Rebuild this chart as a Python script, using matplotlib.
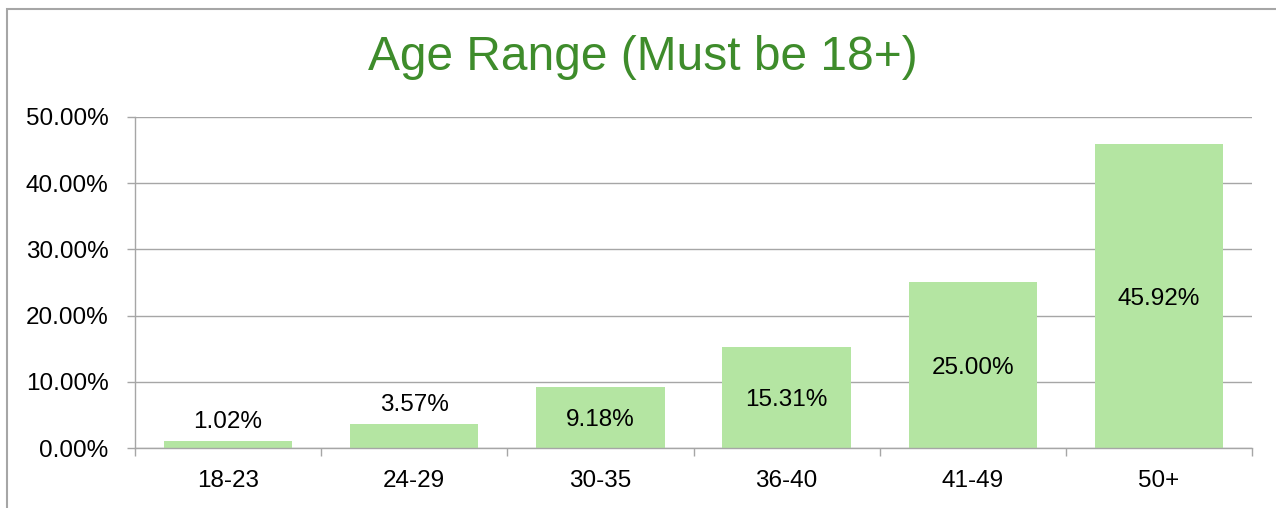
import numpy as np
import matplotlib.pyplot as plt
from matplotlib.patches import Rectangle
from matplotlib.ticker import PercentFormatter, FixedLocator

# ----------------
# Chart data
# ----------------

AGE_GROUPS = ["18-23", "24-29", "30-35", "36-40", "41-49", "50+"]
SHARES = [0.0102, 0.0357, 0.0918, 0.1531, 0.2500, 0.4592]
Y_TICKS = [0.0, 0.1, 0.2, 0.3, 0.4, 0.5]

TITLE = "Age Range (Must be 18+)"
BAR_COLOR = "#B4E5A2"
TITLE_COLOR = "#3E8C2B"
GRID_COLOR = "#A6A6A6"
FONT_SIZE = 17.5

plt.rcParams["font.family"] = ["Liberation Sans", "DejaVu Sans"]

fig = plt.figure(figsize=(12.76, 5.08), dpi=100)
ax = fig.add_axes([0.1058, 0.1181, 0.8754, 0.6516])

# outer chart frame (cut off at right and bottom edges)
fig.patches.append(Rectangle((7 / 1276, -0.05), 1.2, 1 - 9 / 508 + 0.05,
                             transform=fig.transFigure, fill=False,
                             edgecolor="#A6A6A6", linewidth=1.5))

x = np.arange(len(AGE_GROUPS))
bars = ax.bar(x, SHARES, width=0.69, color=BAR_COLOR, zorder=2)

for rect, val in zip(bars, SHARES):
    cx = rect.get_x() + rect.get_width() / 2
    label = f"{val * 100:.2f}%"
    if val < 0.05:
        ax.annotate(label, (cx, val), xytext=(0, 6), textcoords="offset points",
                    ha="center", va="bottom", fontsize=FONT_SIZE, zorder=3)
    else:
        ax.text(cx, val / 2, label, ha="center", va="center_baseline",
                fontsize=FONT_SIZE, zorder=3)

ax.set_xlim(-0.5, len(AGE_GROUPS) - 0.5)
ax.set_ylim(0, 0.5)
ax.set_yticks(Y_TICKS)
ax.yaxis.set_major_formatter(PercentFormatter(1.0, decimals=2))
ax.set_xticks(x)
ax.set_xticklabels(AGE_GROUPS)
ax.xaxis.set_minor_locator(FixedLocator(np.arange(len(AGE_GROUPS) + 1) - 0.5))

ax.tick_params(axis="x", which="major", length=0, pad=16, labelsize=FONT_SIZE)
ax.tick_params(axis="x", which="minor", length=6, color=GRID_COLOR, width=1)
ax.tick_params(axis="y", length=6, color=GRID_COLOR, width=1, pad=13, labelsize=FONT_SIZE)

ax.grid(True, axis="y", color=GRID_COLOR, linewidth=1, zorder=0)
ax.set_axisbelow(True)
for side in ("top", "right"):
    ax.spines[side].set_visible(False)
for side in ("left", "bottom"):
    ax.spines[side].set_color(GRID_COLOR)
    ax.spines[side].set_linewidth(1)

fig.text(643 / 1276, 1 - 58 / 508, TITLE, ha="center", va="center",
         fontsize=34.5, color=TITLE_COLOR)

fig.savefig("out.png", dpi=100)
